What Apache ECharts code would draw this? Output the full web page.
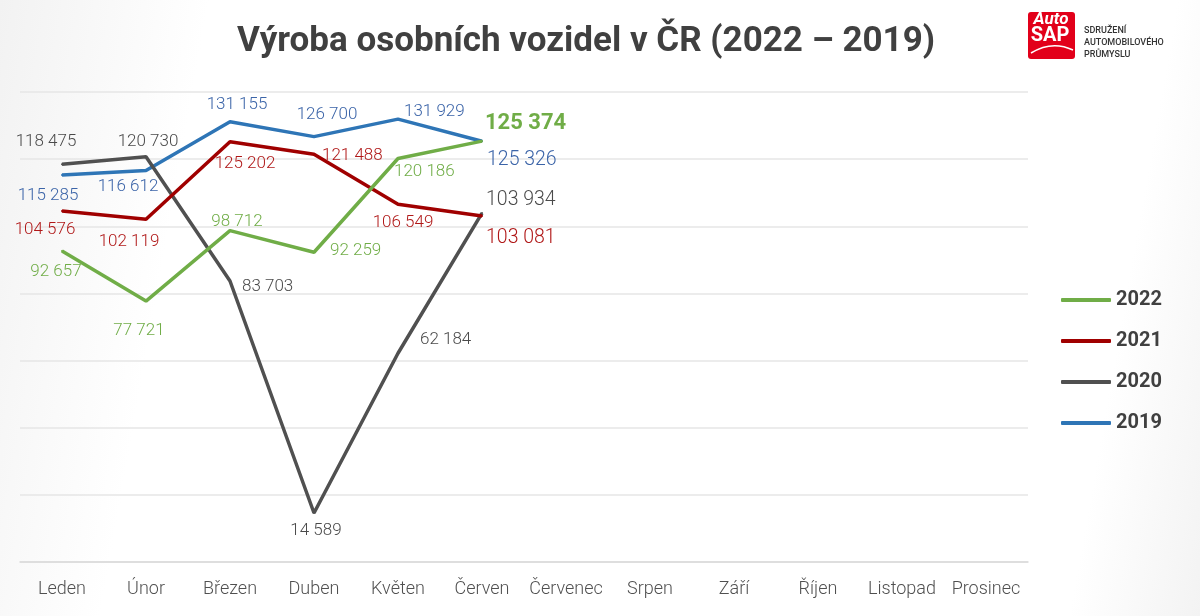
<!DOCTYPE html>
<html lang="cs">
<head>
  <meta charset="UTF-8">
  <title>Výroba osobních vozidel v ČR</title>
  <style>
    * { margin: 0; padding: 0; box-sizing: border-box; }
    body {
      width: 1200px;
      height: 616px;
      background: linear-gradient(100deg, #f2f2f2 0%, #ffffff 16%, #ffffff 90%, #f3f3f3 100%);
    }
    #chart { width: 1200px; height: 616px; }
  </style>
</head>
<body>
  <div id="chart"></div>
  <script src="https://cdn.jsdelivr.net/npm/echarts@6/dist/echarts.min.js"></script>
  <script>
    const months = ['Leden', 'Únor', 'Březen', 'Duben', 'Květen', 'Červen', 'Červenec', 'Srpen', 'Září', 'Říjen', 'Listopad', 'Prosinec']
    const years = ['2022', '2021', '2020', '2019']
    const v2022 = [92657, 77721, 98712, 92259, 120186, 125374]
    const v2021 = [104576, 102119, 125202, 121488, 106549, 103081]
    const v2020 = [118475, 120730, 83703, 14589, 62184, 103934]
    const v2019 = [115285, 116612, 131155, 126700, 131929, 125326]

    const lineColors = ['#70ad47', '#a00000', '#505050', '#2e75b6']
    const labelColors = ['#70ad47', '#b01818', '#4a4a4a', '#3b64a8']

    // where each value label sits relative to its point: [position, dx, dy]
    const labelPlace = [
      [['bottom', -6, 6], ['bottom', -7, 15], ['top', 7, 6], ['right', 10, -2], ['right', -10, 13], ['right', -3, -18]],
      [['bottom', -17, 4], ['bottom', -17, 8], ['bottom', 15, 8], ['right', 2, 2], ['bottom', 5, 4], ['right', -2, 22]],
      [['top', -16, -8], ['top', 2, 0], ['right', 6, 6], ['bottom', 2, 3], ['right', 16, -13], ['right', -2, -13]],
      [['bottom', -14, 6], ['bottom', -18, 2], ['top', 7, -2], ['top', 13, -7], ['right', 0, -7], ['right', -1, 19]]
    ]

    const fmt = n => String(n).replace(/\B(?=(\d{3})+(?!\d))/g, ' ')

    function buildSeries(name, values, i) {
      const last = values.length - 1
      return {
        name: name,
        type: 'line',
        symbol: 'circle',
        symbolSize: 2,
        lineStyle: { width: 3.5, color: lineColors[i] },
        itemStyle: { color: lineColors[i] },
        z: 10 - i,
        data: values.map((v, k) => {
          const p = labelPlace[i][k]
          const bold = i === 0 && k === last
          return {
            value: v,
            label: {
              show: true,
              position: p[0],
              offset: [p[1], p[2]],
              formatter: d => fmt(d.value),
              color: labelColors[i],
              fontFamily: 'Roboto',
              fontSize: bold ? 22 : (k === last ? 19.5 : 17),
              fontWeight: bold ? 'bold' : 300
            }
          }
        })
      }
    }

    const chart = echarts.init(document.getElementById('chart'))
    chart.setOption({
      animation: false,
      title: {
        text: 'Výroba osobních vozidel v ČR (2022 – 2019)',
        left: 581,
        textAlign: 'center',
        top: 20,
        textStyle: { fontFamily: 'Roboto', fontSize: 35, fontWeight: 'bold', color: '#404040' }
      },
      legend: {
        data: years,
        orient: 'vertical',
        left: 1056,
        top: 285,
        icon: 'roundRect',
        itemWidth: 50,
        itemHeight: 4,
        itemGap: 21,
        textStyle: { fontFamily: 'Roboto', fontSize: 20, fontWeight: 'bold', color: '#404040', lineHeight: 20 }
      },
      grid: { left: 20, right: 172, top: 92, bottom: 54 },
      xAxis: {
        type: 'category',
        data: months,
        boundaryGap: true,
        axisLine: { lineStyle: { color: '#d9d9d9', width: 1.5 } },
        axisTick: { show: false },
        axisLabel: { fontFamily: 'Roboto', fontSize: 18, fontWeight: 300, color: '#505050', margin: 18, interval: 0 }
      },
      yAxis: {
        type: 'value',
        min: 0,
        max: 140000,
        interval: 20000,
        axisLabel: { show: false },
        axisLine: { show: false },
        axisTick: { show: false },
        splitLine: { lineStyle: { color: '#e6e6e6', width: 1.5 } }
      },
      series: [
        buildSeries(years[0], v2022, 0),
        buildSeries(years[1], v2021, 1),
        buildSeries(years[2], v2020, 2),
        buildSeries(years[3], v2019, 3)
      ],
      graphic: [
        { type: 'rect', shape: { x: 1028, y: 12, width: 47, height: 47, r: 3 }, style: { fill: '#e2001a' } },
        { type: 'text', x: 1051, y: 11, style: { text: 'Auto', fill: '#fff', font: 'italic bold 17px Roboto', align: 'center' } },
        { type: 'text', x: 1050, y: 26, style: { text: 'SAP', fill: '#fff', font: 'bold 20px Roboto', align: 'center' } },
        { type: 'bezierCurve', shape: { x1: 1031, y1: 53, x2: 1073, y2: 50, cpx1: 1052, cpy1: 40 }, style: { fill: 'none', stroke: '#fff', lineWidth: 1.5 } },
        { type: 'text', x: 1084, y: 25, style: { text: 'SDRUŽENÍ\nAUTOMOBILOVÉHO\nPRŮMYSLU', fill: '#333', font: '500 9px Roboto', lineHeight: 12 } }
      ]
    })
  </script>
</body>
</html>
